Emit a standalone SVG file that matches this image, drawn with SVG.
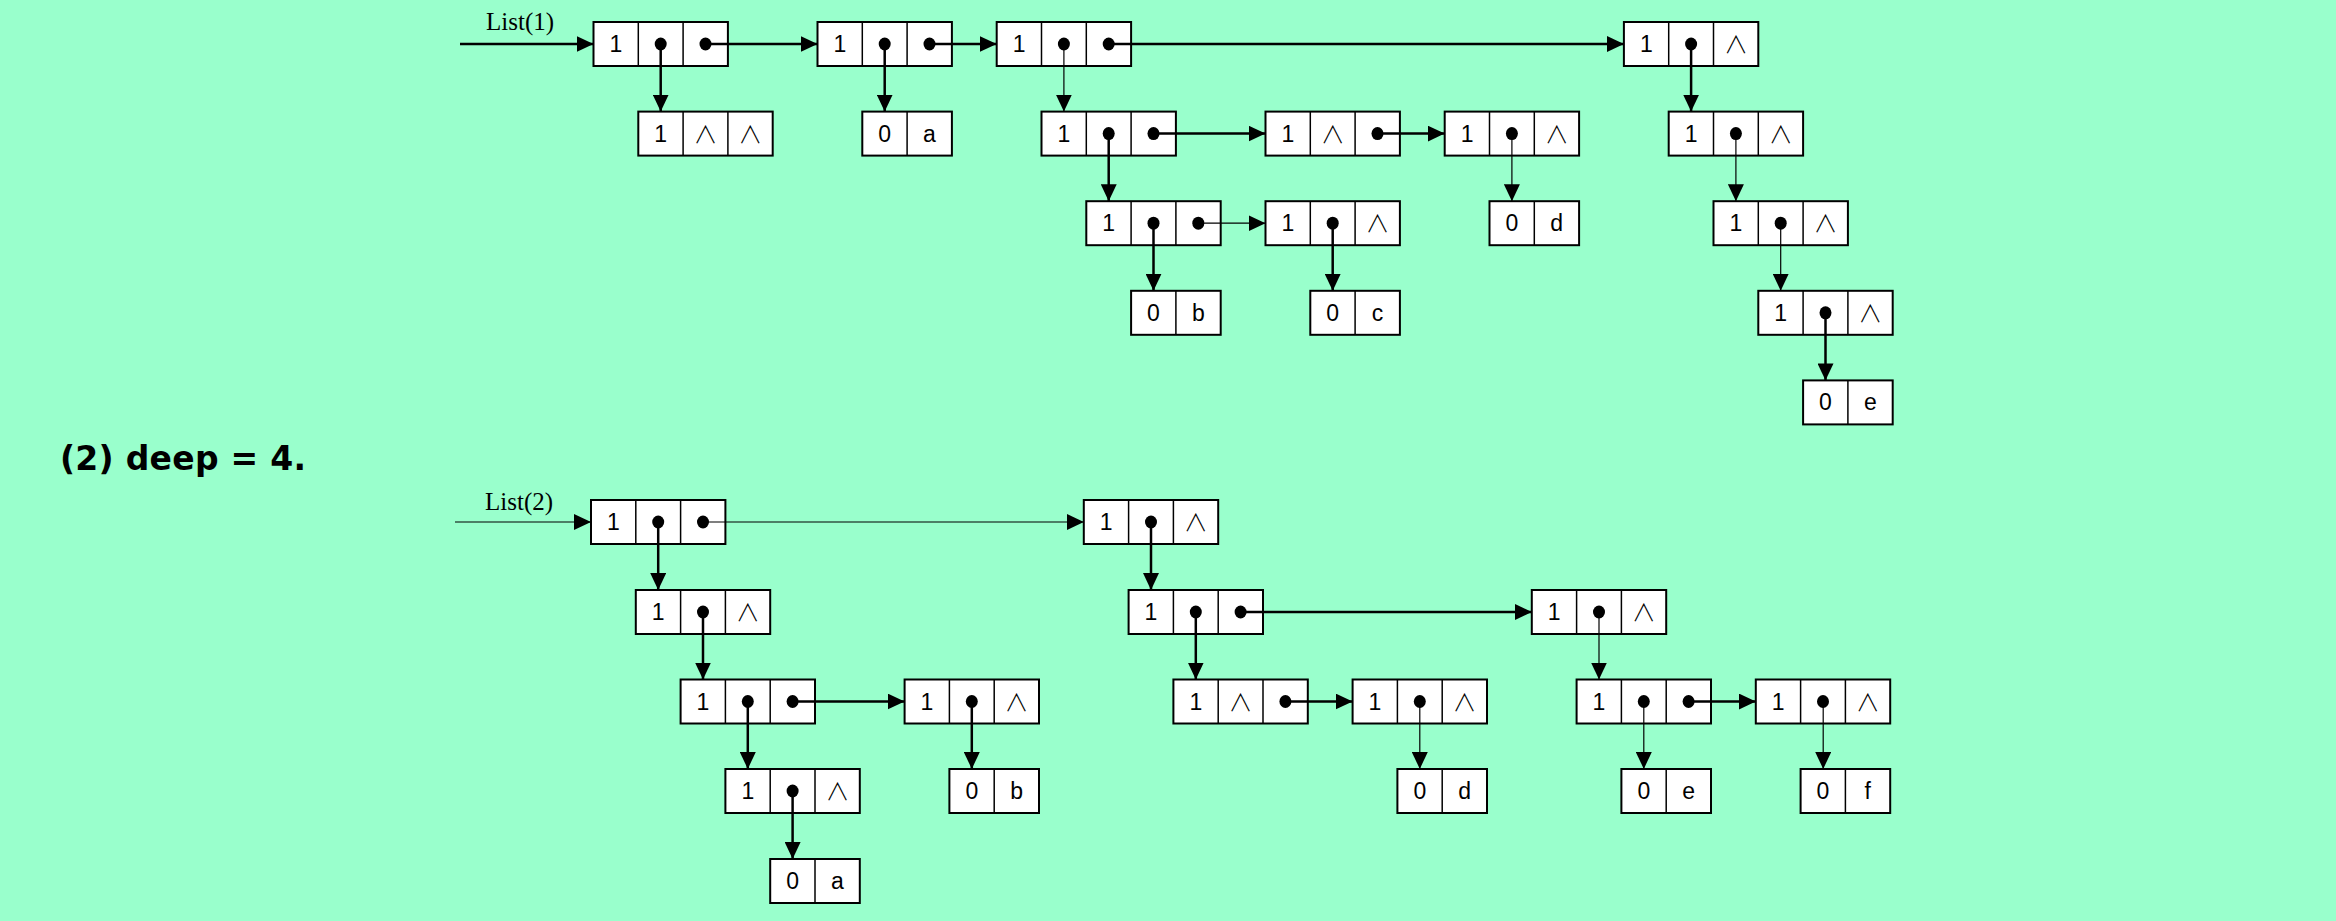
<svg xmlns="http://www.w3.org/2000/svg" xmlns:xlink="http://www.w3.org/1999/xlink" width="2336" height="921" viewBox="0 0 2336 921">
<style>
.bg{fill:#99ffcc}
.box{fill:#ffffff;stroke:#000;stroke-width:2}
.div{stroke:#000;stroke-width:1.5}
.t{font-family:"Liberation Sans",Arial,sans-serif;font-size:23px;text-anchor:middle;fill:#000}
.n{font-family:"Noto Sans CJK SC","DejaVu Sans",sans-serif;font-weight:200;font-size:24px;text-anchor:middle;fill:#000}
.lbl{font-family:"Liberation Serif","Times New Roman",serif;font-size:25px;fill:#000}
.title{font-family:"DejaVu Sans",Verdana,sans-serif;font-weight:bold;font-size:33px;fill:#000}
.c{fill:none;stroke:#000}
.k{stroke-width:2.5}
.h{stroke-width:1.2}
</style>
<defs>
<g id="b3"><rect class="box" width="134.4" height="44"/><line class="div" x1="44.8" y1="0" x2="44.8" y2="44"/><line class="div" x1="89.6" y1="0" x2="89.6" y2="44"/></g>
<g id="b2"><rect class="box" width="89.6" height="44"/><line class="div" x1="44.8" y1="0" x2="44.8" y2="44"/></g>
<ellipse id="dot" rx="6" ry="6.5" fill="#000"/>
<marker id="ar" markerUnits="userSpaceOnUse" markerWidth="17" markerHeight="16" refX="17" refY="8" orient="auto"><path d="M0,0 L17,8 L0,16 Z" fill="#000"/></marker>
</defs>
<rect class="bg" x="0" y="0" width="2336" height="921"/>
<text class="lbl" x="486" y="30">List(1)</text>
<text class="lbl" x="485" y="510">List(2)</text>
<text class="title" x="60" y="470" textLength="246" lengthAdjust="spacing">(2) deep = 4.</text>

<g id="t0" transform="translate(593.5,22)"><use href="#b3"/><text class="t" x="22.4" y="30">1</text><use href="#dot" x="67.2" y="22"/><use href="#dot" x="112" y="22"/></g>
<g id="t1" transform="translate(817.5,22)"><use href="#b3"/><text class="t" x="22.4" y="30">1</text><use href="#dot" x="67.2" y="22"/><use href="#dot" x="112" y="22"/></g>
<g id="t2" transform="translate(996.7,22)"><use href="#b3"/><text class="t" x="22.4" y="30">1</text><use href="#dot" x="67.2" y="22"/><use href="#dot" x="112" y="22"/></g>
<g id="t3" transform="translate(1623.9,22)"><use href="#b3"/><text class="t" x="22.4" y="30">1</text><use href="#dot" x="67.2" y="22"/><text class="n" x="112" y="31">∧</text></g>
<g id="t4" transform="translate(638.3,111.6)"><use href="#b3"/><text class="t" x="22.4" y="30">1</text><text class="n" x="67.2" y="31">∧</text><text class="n" x="112" y="31">∧</text></g>
<g id="t5" transform="translate(862.3,111.6)"><use href="#b2"/><text class="t" x="22.4" y="30">0</text><text class="t" x="67.2" y="30">a</text></g>
<g id="t6" transform="translate(1041.5,111.6)"><use href="#b3"/><text class="t" x="22.4" y="30">1</text><use href="#dot" x="67.2" y="22"/><use href="#dot" x="112" y="22"/></g>
<g id="t7" transform="translate(1265.5,111.6)"><use href="#b3"/><text class="t" x="22.4" y="30">1</text><text class="n" x="67.2" y="31">∧</text><use href="#dot" x="112" y="22"/></g>
<g id="t8" transform="translate(1444.7,111.6)"><use href="#b3"/><text class="t" x="22.4" y="30">1</text><use href="#dot" x="67.2" y="22"/><text class="n" x="112" y="31">∧</text></g>
<g id="t9" transform="translate(1668.7,111.6)"><use href="#b3"/><text class="t" x="22.4" y="30">1</text><use href="#dot" x="67.2" y="22"/><text class="n" x="112" y="31">∧</text></g>
<g id="t10" transform="translate(1086.3,201.2)"><use href="#b3"/><text class="t" x="22.4" y="30">1</text><use href="#dot" x="67.2" y="22"/><use href="#dot" x="112" y="22"/></g>
<g id="t11" transform="translate(1265.5,201.2)"><use href="#b3"/><text class="t" x="22.4" y="30">1</text><use href="#dot" x="67.2" y="22"/><text class="n" x="112" y="31">∧</text></g>
<g id="t12" transform="translate(1489.5,201.2)"><use href="#b2"/><text class="t" x="22.4" y="30">0</text><text class="t" x="67.2" y="30">d</text></g>
<g id="t13" transform="translate(1713.5,201.2)"><use href="#b3"/><text class="t" x="22.4" y="30">1</text><use href="#dot" x="67.2" y="22"/><text class="n" x="112" y="31">∧</text></g>
<g id="t14" transform="translate(1131.1,290.8)"><use href="#b2"/><text class="t" x="22.4" y="30">0</text><text class="t" x="67.2" y="30">b</text></g>
<g id="t15" transform="translate(1310.3,290.8)"><use href="#b2"/><text class="t" x="22.4" y="30">0</text><text class="t" x="67.2" y="30">c</text></g>
<g id="t16" transform="translate(1758.3,290.8)"><use href="#b3"/><text class="t" x="22.4" y="30">1</text><use href="#dot" x="67.2" y="22"/><text class="n" x="112" y="31">∧</text></g>
<g id="t17" transform="translate(1803.1,380.4)"><use href="#b2"/><text class="t" x="22.4" y="30">0</text><text class="t" x="67.2" y="30">e</text></g>

<g id="b0" transform="translate(591,500)"><use href="#b3"/><text class="t" x="22.4" y="30">1</text><use href="#dot" x="67.2" y="22"/><use href="#dot" x="112" y="22"/></g>
<g id="b1" transform="translate(1083.8,500)"><use href="#b3"/><text class="t" x="22.4" y="30">1</text><use href="#dot" x="67.2" y="22"/><text class="n" x="112" y="31">∧</text></g>
<g id="b2n" transform="translate(635.8,590)"><use href="#b3"/><text class="t" x="22.4" y="30">1</text><use href="#dot" x="67.2" y="22"/><text class="n" x="112" y="31">∧</text></g>
<g id="b3n" transform="translate(1128.6,590)"><use href="#b3"/><text class="t" x="22.4" y="30">1</text><use href="#dot" x="67.2" y="22"/><use href="#dot" x="112" y="22"/></g>
<g id="b4" transform="translate(1531.8,590)"><use href="#b3"/><text class="t" x="22.4" y="30">1</text><use href="#dot" x="67.2" y="22"/><text class="n" x="112" y="31">∧</text></g>
<g id="b5" transform="translate(680.6,679.5)"><use href="#b3"/><text class="t" x="22.4" y="30">1</text><use href="#dot" x="67.2" y="22"/><use href="#dot" x="112" y="22"/></g>
<g id="b6" transform="translate(904.6,679.5)"><use href="#b3"/><text class="t" x="22.4" y="30">1</text><use href="#dot" x="67.2" y="22"/><text class="n" x="112" y="31">∧</text></g>
<g id="b7" transform="translate(1173.4,679.5)"><use href="#b3"/><text class="t" x="22.4" y="30">1</text><text class="n" x="67.2" y="31">∧</text><use href="#dot" x="112" y="22"/></g>
<g id="b8" transform="translate(1352.6,679.5)"><use href="#b3"/><text class="t" x="22.4" y="30">1</text><use href="#dot" x="67.2" y="22"/><text class="n" x="112" y="31">∧</text></g>
<g id="b9" transform="translate(1576.6,679.5)"><use href="#b3"/><text class="t" x="22.4" y="30">1</text><use href="#dot" x="67.2" y="22"/><use href="#dot" x="112" y="22"/></g>
<g id="b10" transform="translate(1755.8,679.5)"><use href="#b3"/><text class="t" x="22.4" y="30">1</text><use href="#dot" x="67.2" y="22"/><text class="n" x="112" y="31">∧</text></g>
<g id="b11" transform="translate(725.4,769)"><use href="#b3"/><text class="t" x="22.4" y="30">1</text><use href="#dot" x="67.2" y="22"/><text class="n" x="112" y="31">∧</text></g>
<g id="b12" transform="translate(949.4,769)"><use href="#b2"/><text class="t" x="22.4" y="30">0</text><text class="t" x="67.2" y="30">b</text></g>
<g id="b13" transform="translate(1397.4,769)"><use href="#b2"/><text class="t" x="22.4" y="30">0</text><text class="t" x="67.2" y="30">d</text></g>
<g id="b14" transform="translate(1621.4,769)"><use href="#b2"/><text class="t" x="22.4" y="30">0</text><text class="t" x="67.2" y="30">e</text></g>
<g id="b15" transform="translate(1800.6,769)"><use href="#b2"/><text class="t" x="22.4" y="30">0</text><text class="t" x="67.2" y="30">f</text></g>
<g id="b16" transform="translate(770.2,859)"><use href="#b2"/><text class="t" x="22.4" y="30">0</text><text class="t" x="67.2" y="30">a</text></g>

<g id="connectors">
<path class="c k" d="M460,44 H593.5" marker-end="url(#ar)"/>
<path class="c k" d="M705.5,44 H817.5" marker-end="url(#ar)"/>
<path class="c k" d="M660.7,44 V111.6" marker-end="url(#ar)"/>
<path class="c k" d="M929.5,44 H996.7" marker-end="url(#ar)"/>
<path class="c k" d="M884.7,44 V111.6" marker-end="url(#ar)"/>
<path class="c h" d="M1063.9,44 V111.6" marker-end="url(#ar)"/>
<path class="c k" d="M1108.7,44 H1623.9" marker-end="url(#ar)"/>
<path class="c k" d="M1691.1,44 V111.6" marker-end="url(#ar)"/>
<path class="c k" d="M1108.7,133.6 V201.2" marker-end="url(#ar)"/>
<path class="c k" d="M1153.5,133.6 H1265.5" marker-end="url(#ar)"/>
<path class="c k" d="M1377.5,133.6 H1444.7" marker-end="url(#ar)"/>
<path class="c h" d="M1511.9,133.6 V201.2" marker-end="url(#ar)"/>
<path class="c h" d="M1735.9,133.6 V201.2" marker-end="url(#ar)"/>
<path class="c k" d="M1153.5,223.2 V290.8" marker-end="url(#ar)"/>
<path class="c h" d="M1198.3,223.2 H1265.5" marker-end="url(#ar)"/>
<path class="c k" d="M1332.7,223.2 V290.8" marker-end="url(#ar)"/>
<path class="c h" d="M1780.7,223.2 V290.8" marker-end="url(#ar)"/>
<path class="c k" d="M1825.5,312.8 V380.4" marker-end="url(#ar)"/>
<path class="c h" d="M455,522 H591" marker-end="url(#ar)"/>
<path class="c h" d="M703,522 H1083.8" marker-end="url(#ar)"/>
<path class="c k" d="M658.2,522 V590" marker-end="url(#ar)"/>
<path class="c k" d="M1151,522 V590" marker-end="url(#ar)"/>
<path class="c k" d="M703,612 V679.5" marker-end="url(#ar)"/>
<path class="c k" d="M1195.8,612 V679.5" marker-end="url(#ar)"/>
<path class="c k" d="M1240.6,612 H1531.8" marker-end="url(#ar)"/>
<path class="c h" d="M1599,612 V679.5" marker-end="url(#ar)"/>
<path class="c k" d="M747.8,701.5 V769" marker-end="url(#ar)"/>
<path class="c k" d="M792.6,701.5 H904.6" marker-end="url(#ar)"/>
<path class="c k" d="M971.8,701.5 V769" marker-end="url(#ar)"/>
<path class="c k" d="M1285.4,701.5 H1352.6" marker-end="url(#ar)"/>
<path class="c h" d="M1419.8,701.5 V769" marker-end="url(#ar)"/>
<path class="c h" d="M1643.8,701.5 V769" marker-end="url(#ar)"/>
<path class="c k" d="M1688.6,701.5 H1755.8" marker-end="url(#ar)"/>
<path class="c h" d="M1823.2,701.5 V769" marker-end="url(#ar)"/>
<path class="c k" d="M792.6,791 V859" marker-end="url(#ar)"/>
</g>
</svg>
